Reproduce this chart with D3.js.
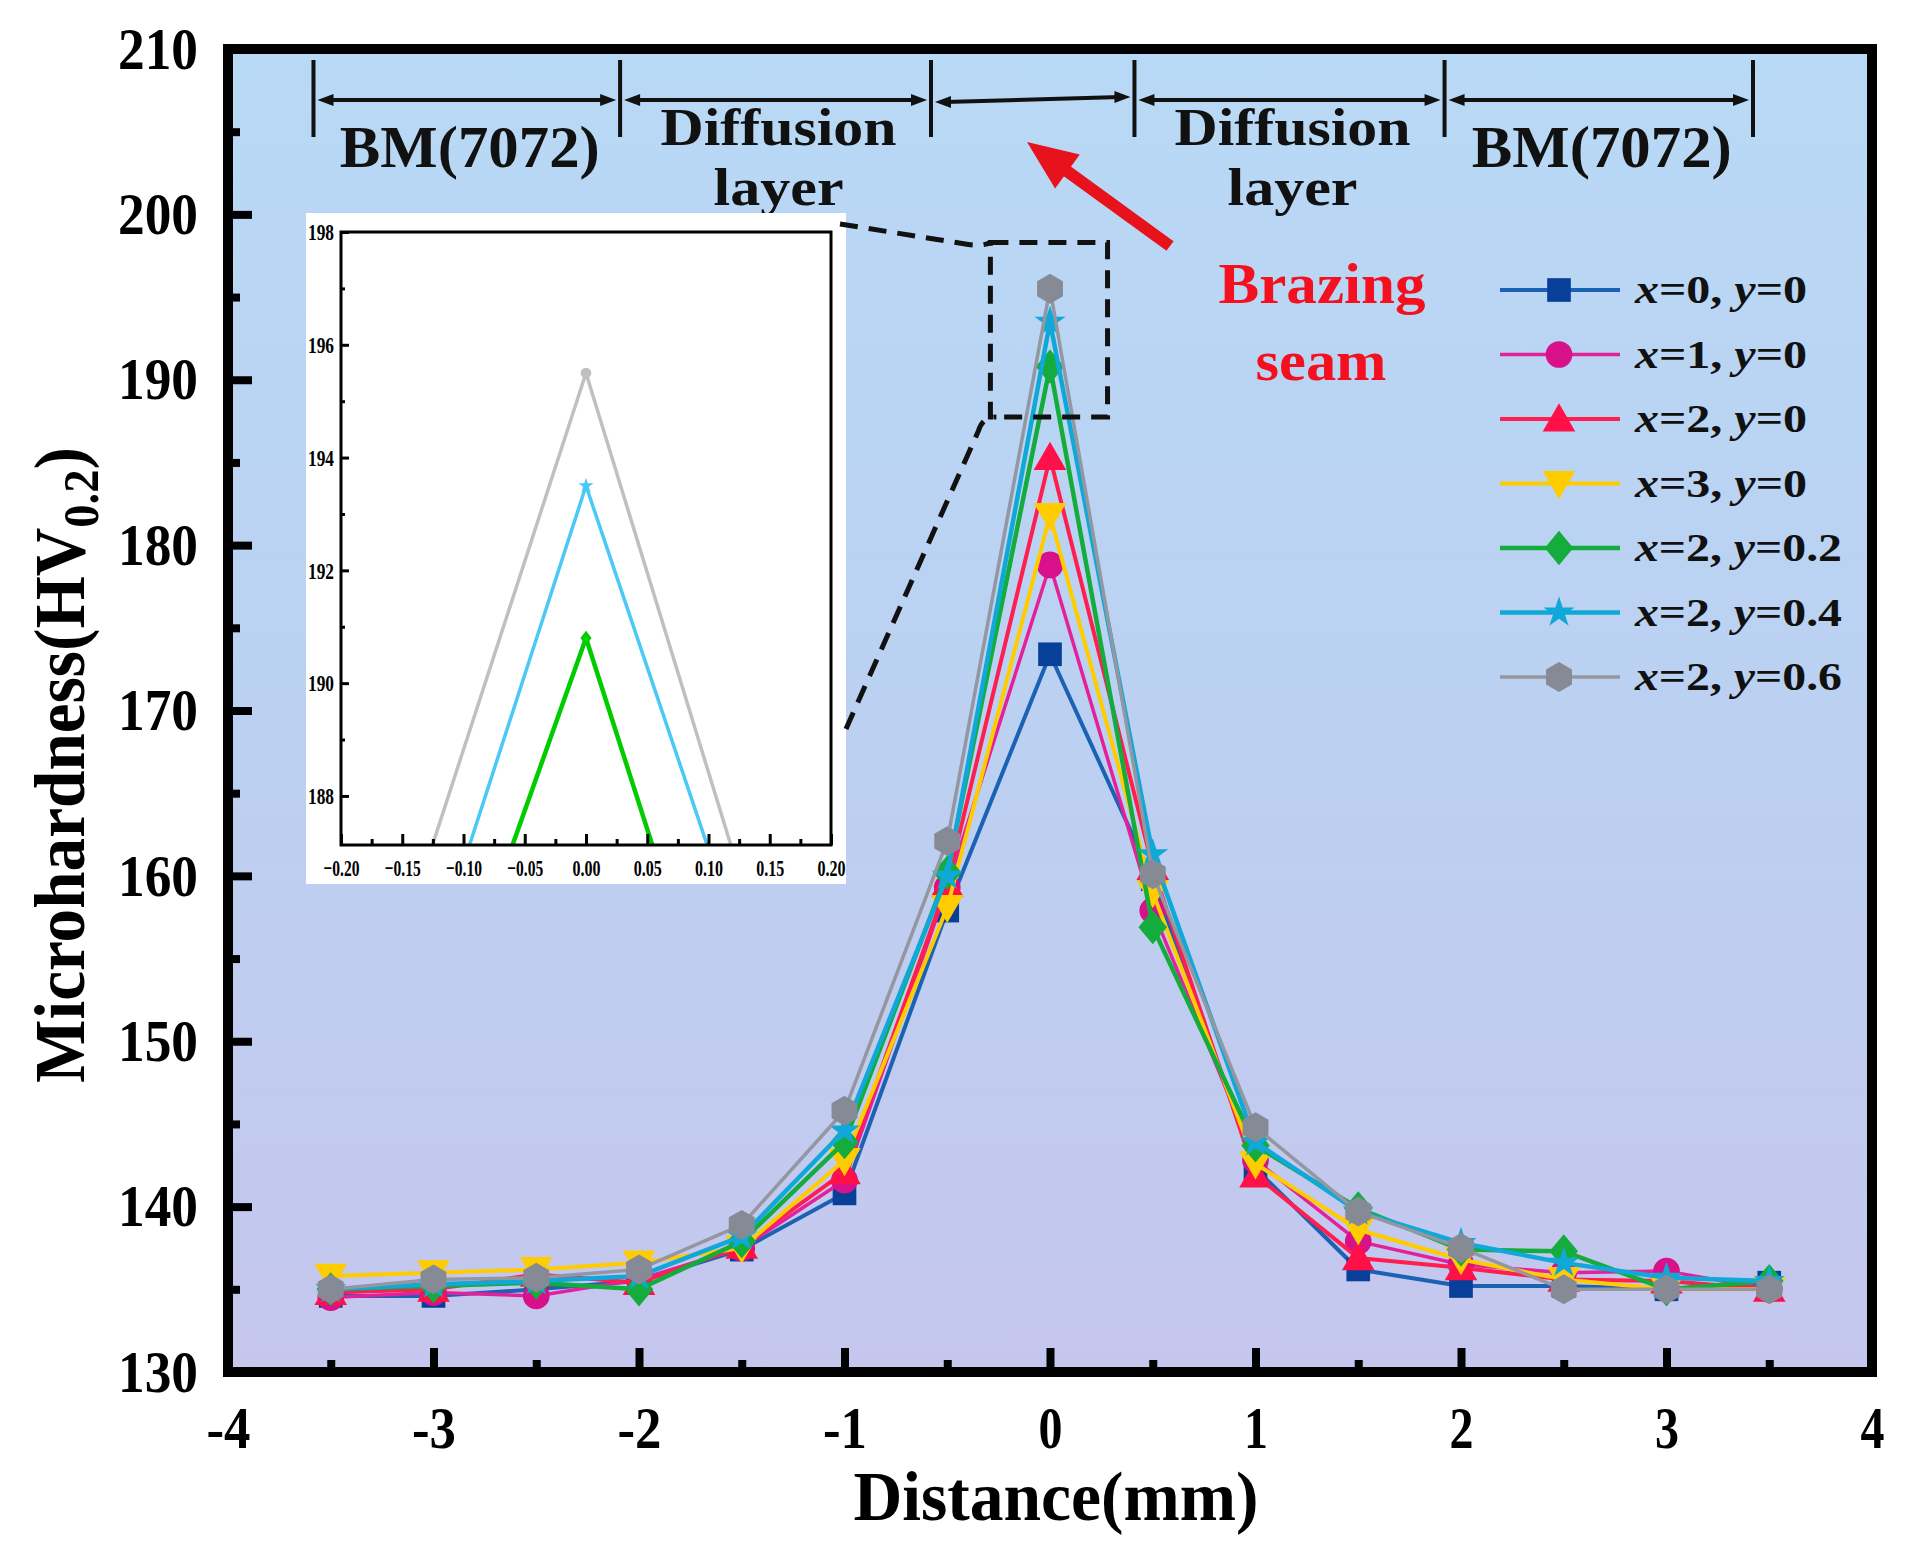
<!DOCTYPE html>
<html>
<head>
<meta charset="utf-8">
<script src="https://cdn.jsdelivr.net/npm/d3@7/dist/d3.min.js"></script>
<style>
  body { margin: 0; background: #fff; }
  svg { display: block; }
  text { font-family: "Liberation Serif", "Times New Roman", serif; font-weight: bold; }
</style>
</head>
<body>
<div id="chart"></div>
<script>
// distance from seam centre (mm)
const distance = [-3.5, -3, -2.5, -2, -1.5, -1, -0.5, 0, 0.5, 1, 1.5, 2, 2.5, 3, 3.5];

// microhardness HV0.2 per composition
const hv_x0_y0   = [134.6, 134.6, 135.0, 135.5, 137.4, 140.8, 157.9, 173.4, 159.8, 142.3, 136.2, 135.2, 135.2, 135.0, 135.4];
const hv_x1_y0   = [134.5, 134.8, 134.6, 135.6, 137.5, 141.6, 159.3, 178.8, 157.9, 142.8, 137.9, 136.5, 136.0, 136.1, 135.0];
const hv_x2_y0   = [134.8, 135.0, 135.9, 135.4, 137.6, 142.1, 159.5, 185.3, 160.5, 141.9, 136.9, 136.3, 135.6, 135.5, 135.0];
const hv_x3_y0   = [135.8, 136.0, 136.2, 136.6, 137.5, 142.8, 158.1, 181.8, 159.0, 142.6, 138.6, 136.8, 135.6, 135.0, 135.0];
const hv_x2_y02  = [135.0, 135.2, 135.4, 135.0, 137.9, 143.9, 160.2, 190.8, 156.9, 143.7, 139.9, 137.4, 137.3, 135.0, 135.5];
const hv_x2_y04  = [135.0, 135.3, 135.5, 135.8, 138.2, 144.6, 160.0, 193.5, 161.3, 143.9, 139.7, 137.8, 136.6, 135.7, 135.5];
const hv_x2_y06  = [135.0, 135.6, 135.7, 136.2, 138.9, 145.8, 162.1, 195.5, 160.1, 144.8, 139.7, 137.5, 135.0, 135.0, 135.0];

const legendX = ["0", "1", "2", "3", "2", "2", "2"];
const legendY = ["0", "0", "0", "0", "0.2", "0.4", "0.6"];

const xTicks = [-4, -3, -2, -1, 0, 1, 2, 3, 4];
const xMinor = [-3.5, -2.5, -1.5, -0.5, 0.5, 1.5, 2.5, 3.5];
const yTicks = [130, 140, 150, 160, 170, 180, 190, 200, 210];
const yMinor = [135, 145, 155, 165, 175, 185, 195, 205];

const insetXTicks = [-0.2, -0.15, -0.1, -0.05, 0, 0.05, 0.1, 0.15, 0.2];
const insetXMinor = [-0.175, -0.125, -0.075, -0.025, 0.025, 0.075, 0.125, 0.175];
const insetYTicks = [188, 190, 192, 194, 196, 198];
const insetYMinor = [189, 191, 193, 195, 197];

// region borders along the distance axis (mm) and their names
const zoneEdges = [-3.584, -2.092, -0.579, 0.411, 1.920, 3.421];
const zoneLabels = [["BM(7072)"], ["Diffusion", "layer"], [], ["Diffusion", "layer"], ["BM(7072)"]];

// area magnified in the inset
const zoomBoxX = [-0.29, 0.28];
const zoomBoxY = [187.75, 198.3];

const W = 1913, H = 1559;

const hexagon = {
  draw(ctx, size) {
    const r = Math.sqrt(size / (1.5 * Math.sqrt(3)));
    for (let i = 0; i < 6; i++) {
      const a = Math.PI / 3 * i - Math.PI / 2;
      if (i === 0) ctx.moveTo(r * Math.cos(a), r * Math.sin(a));
      else ctx.lineTo(r * Math.cos(a), r * Math.sin(a));
    }
    ctx.closePath();
  }
};

const series = [
  {values: hv_x0_y0,  line: "#1c62b4", fill: "#083f98", type: d3.symbolSquare,   size: 560, tf: "",               lw: 4},
  {values: hv_x1_y0,  line: "#e4209a", fill: "#d8108a", type: d3.symbolCircle,   size: 560, tf: "",               lw: 3.5},
  {values: hv_x2_y0,  line: "#ff1e50", fill: "#ff1048", type: d3.symbolTriangle, size: 460, tf: " translate(0,3)", lw: 4},
  {values: hv_x3_y0,  line: "#ffcc00", fill: "#ffcc00", type: d3.symbolTriangle, size: 460, tf: " rotate(180) translate(0,3)", lw: 4},
  {values: hv_x2_y02, line: "#14ac3c", fill: "#14ac3c", type: d3.symbolDiamond2, size: 520, tf: " scale(1,1.2)",  lw: 4.5},
  {values: hv_x2_y04, line: "#10a8d8", fill: "#10a8d8", type: d3.symbolStar,     size: 300, tf: "",               lw: 4.5},
  {values: hv_x2_y06, line: "#9496a0", fill: "#858a94", type: hexagon,           size: 580, tf: "",               lw: 3.5}
];

const svg = d3.select("#chart").append("svg").attr("width", W).attr("height", H);
const defs = svg.append("defs");
const grad = defs.append("linearGradient").attr("id", "bg")
  .attr("x1", 0).attr("y1", 0).attr("x2", 0).attr("y2", 1);
grad.append("stop").attr("offset", "0%").attr("stop-color", "#b8d9f5");
grad.append("stop").attr("offset", "55%").attr("stop-color", "#bcd0f1");
grad.append("stop").attr("offset", "100%").attr("stop-color", "#c5c6ee");

const x = d3.scaleLinear().domain([-4, 4]).range([228, 1872]);
const y = d3.scaleLinear().domain([130, 210]).range([1372, 49]);

// plot background
svg.append("rect")
  .attr("x", x(-4)).attr("y", y(210))
  .attr("width", x(4) - x(-4)).attr("height", y(130) - y(210))
  .attr("fill", "url(#bg)");

function tickStyle(w) {
  return g => {
    g.select(".domain").remove();
    g.selectAll(".tick line").attr("stroke", "#000").attr("stroke-width", w);
    g.selectAll(".tick text").attr("fill", "#000");
  };
}

// main axes (ticks point inward)
svg.append("g").attr("transform", `translate(0,${y(130)})`)
  .call(d3.axisBottom(x).tickValues(xMinor).tickSize(-12).tickFormat(""))
  .call(tickStyle(8));
svg.append("g").attr("transform", `translate(0,${y(130)})`)
  .call(d3.axisBottom(x).tickValues(xTicks).tickSize(-24).tickPadding(33).tickFormat(d => String(d)))
  .call(tickStyle(8))
  .call(g => g.selectAll(".tick text")
    .attr("font-size", 60)
    .attr("textLength", d => String(d).replace("-", "").length * 24 + (d < 0 ? 20 : 0))
    .attr("lengthAdjust", "spacingAndGlyphs"));

svg.append("g").attr("transform", `translate(${x(-4)},0)`)
  .call(d3.axisLeft(y).tickValues(yMinor).tickSize(-12).tickFormat(""))
  .call(tickStyle(8));
svg.append("g").attr("transform", `translate(${x(-4)},0)`)
  .call(d3.axisLeft(y).tickValues(yTicks).tickSize(-24).tickPadding(30).tickFormat(d => String(d)))
  .call(tickStyle(8))
  .call(g => g.selectAll(".tick text")
    .attr("font-size", 60)
    .attr("textLength", 80)
    .attr("lengthAdjust", "spacingAndGlyphs"));

// data
const line = d3.line().x((d, i) => x(distance[i])).y(d => y(d));
series.forEach(s => {
  svg.append("path").datum(s.values)
    .attr("d", line)
    .attr("fill", "none")
    .attr("stroke", s.line)
    .attr("stroke-width", s.lw)
    .attr("stroke-linejoin", "round");
  svg.append("g").selectAll("path")
    .data(s.values)
    .join("path")
    .attr("transform", (d, i) => `translate(${x(distance[i])},${y(d)})` + s.tf)
    .attr("d", d3.symbol().type(s.type).size(s.size))
    .attr("fill", s.fill);
});

// frame
svg.append("rect")
  .attr("x", x(-4)).attr("y", y(210))
  .attr("width", x(4) - x(-4)).attr("height", y(130) - y(210))
  .attr("fill", "none").attr("stroke", "#000").attr("stroke-width", 10);

// axis titles
svg.append("text")
  .attr("x", (x(-4) + x(4)) / 2 + 6).attr("y", 1520)
  .attr("text-anchor", "middle").attr("font-size", 70)
  .attr("textLength", 405).attr("lengthAdjust", "spacingAndGlyphs")
  .text("Distance(mm)");

const yTitle = svg.append("text")
  .attr("transform", "translate(84,765) rotate(-90)")
  .attr("text-anchor", "middle").attr("font-size", 72)
  .attr("textLength", 636).attr("lengthAdjust", "spacingAndGlyphs");
yTitle.append("tspan").text("Microhardness(HV");
yTitle.append("tspan").attr("font-size", 50).attr("dy", 14).text("0.2");
yTitle.append("tspan").attr("dy", -14).text(")");

// region annotations on top
const zoneY = 100;
const ann = svg.append("g");
zoneEdges.forEach(e => {
  ann.append("line")
    .attr("x1", x(e)).attr("x2", x(e)).attr("y1", 60).attr("y2", 137)
    .attr("stroke", "#111").attr("stroke-width", 4);
});
d3.pairs(zoneEdges).forEach(([a, b], i) => {
  const xa = x(a) + 4, xb = x(b) - 4;
  const ya = i === 2 ? zoneY + 2 : zoneY, yb = i === 2 ? zoneY - 3 : zoneY;
  ann.append("line").attr("x1", xa + 10).attr("x2", xb - 10).attr("y1", ya).attr("y2", yb)
    .attr("stroke", "#111").attr("stroke-width", 4);
  ann.append("path").attr("d", `M${xa},${ya} L${xa + 16},${ya - 6} L${xa + 16},${ya + 6} Z`).attr("fill", "#111");
  ann.append("path").attr("d", `M${xb},${yb} L${xb - 16},${yb - 6} L${xb - 16},${yb + 6} Z`).attr("fill", "#111");
  const cx = (x(a) + x(b)) / 2 + 3;
  const labels = zoneLabels[i];
  if (labels.length === 1) {
    ann.append("text").attr("x", cx).attr("y", 167)
      .attr("text-anchor", "middle").attr("font-size", 60)
      .attr("textLength", 260).attr("lengthAdjust", "spacingAndGlyphs")
      .attr("fill", "#111").text(labels[0]);
  } else if (labels.length === 2) {
    ann.append("text").attr("x", cx).attr("y", 145)
      .attr("text-anchor", "middle").attr("font-size", 53)
      .attr("textLength", 236).attr("lengthAdjust", "spacingAndGlyphs")
      .attr("fill", "#111").text(labels[0]);
    ann.append("text").attr("x", cx).attr("y", 205)
      .attr("text-anchor", "middle").attr("font-size", 53)
      .attr("textLength", 130).attr("lengthAdjust", "spacingAndGlyphs")
      .attr("fill", "#111").text(labels[1]);
  }
});

// inset
const xi = d3.scaleLinear().domain([-0.2, 0.2]).range([341, 831]);
const yi = d3.scaleLinear().domain([187.13, 198]).range([845, 232]);

svg.append("rect").attr("x", 306).attr("y", 213).attr("width", 540).attr("height", 671).attr("fill", "#fff");
defs.append("clipPath").attr("id", "insetClip").append("rect")
  .attr("x", xi(-0.2)).attr("y", yi(198))
  .attr("width", xi(0.2) - xi(-0.2)).attr("height", yi(187.13) - yi(198));

const insetSeries = [
  {values: hv_x2_y06, color: "#c0c0c0", type: d3.symbolCircle,   size: 90, tf: "",             lw: 3.5},
  {values: hv_x2_y04, color: "#4ac9f6", type: d3.symbolStar,     size: 70, tf: "",             lw: 3.5},
  {values: hv_x2_y02, color: "#00cc00", type: d3.symbolDiamond2, size: 80, tf: " scale(1,1.3)", lw: 4.5}
];
const iline = d3.line().x((d, i) => xi(distance[i])).y(d => yi(d));
const ig = svg.append("g").attr("clip-path", "url(#insetClip)");
insetSeries.forEach(s => {
  ig.append("path").datum(s.values).attr("d", iline)
    .attr("fill", "none").attr("stroke", s.color).attr("stroke-width", s.lw);
  ig.append("g").selectAll("path").data(s.values).join("path")
    .attr("transform", (d, i) => `translate(${xi(distance[i])},${yi(d)})` + s.tf)
    .attr("d", d3.symbol().type(s.type).size(s.size))
    .attr("fill", s.color);
});

svg.append("g").attr("transform", `translate(0,${yi(187.13)})`)
  .call(d3.axisBottom(xi).tickValues(insetXMinor).tickSize(-6).tickFormat(""))
  .call(tickStyle(3));
svg.append("g").attr("transform", `translate(0,${yi(187.13)})`)
  .call(d3.axisBottom(xi).tickValues(insetXTicks).tickSize(-11).tickPadding(14).tickFormat(d3.format(".2f")))
  .call(tickStyle(3))
  .call(g => g.selectAll(".tick text")
    .attr("font-size", 24)
    .attr("textLength", d => d < 0 ? 36 : 28)
    .attr("lengthAdjust", "spacingAndGlyphs"));
svg.append("g").attr("transform", `translate(${xi(-0.2)},0)`)
  .call(d3.axisLeft(yi).tickValues(insetYMinor).tickSize(-4).tickFormat(""))
  .call(tickStyle(3));
svg.append("g").attr("transform", `translate(${xi(-0.2)},0)`)
  .call(d3.axisLeft(yi).tickValues(insetYTicks).tickSize(-8).tickPadding(7).tickFormat(d => String(d)))
  .call(tickStyle(3))
  .call(g => g.selectAll(".tick text")
    .attr("font-size", 24)
    .attr("textLength", 26)
    .attr("lengthAdjust", "spacingAndGlyphs"));
svg.append("rect")
  .attr("x", xi(-0.2)).attr("y", yi(198))
  .attr("width", xi(0.2) - xi(-0.2)).attr("height", yi(187.13) - yi(198))
  .attr("fill", "none").attr("stroke", "#000").attr("stroke-width", 3);

// zoom box and connectors
const dash = g => g.attr("fill", "none").attr("stroke", "#111").attr("stroke-width", 5).attr("stroke-dasharray", "18,11");
svg.append("rect")
  .attr("x", x(zoomBoxX[0])).attr("y", y(zoomBoxY[1]))
  .attr("width", x(zoomBoxX[1]) - x(zoomBoxX[0])).attr("height", y(zoomBoxY[0]) - y(zoomBoxY[1]))
  .call(dash);
const bx = x(zoomBoxX[0]), byTop = y(zoomBoxY[1]), byBot = y(zoomBoxY[0]);
svg.append("path")
  .attr("d", `M840,224 L${bx - 22},${byTop + 2} Q${bx - 8},${byTop + 4} ${bx},${byTop}`)
  .call(dash);
svg.append("path")
  .attr("d", `M846,729 L${bx - 12},${byBot + 14} Q${bx - 8},${byBot} ${bx + 6},${byBot}`)
  .call(dash);

// red arrow and label
const tail = [1170, 246], tip = [1027, 142];
const len = Math.hypot(tip[0] - tail[0], tip[1] - tail[1]);
const ux = (tip[0] - tail[0]) / len, uy = (tip[1] - tail[1]) / len;
const base = [tip[0] - ux * 50, tip[1] - uy * 50];
svg.append("line")
  .attr("x1", tail[0]).attr("y1", tail[1]).attr("x2", base[0] + ux * 4).attr("y2", base[1] + uy * 4)
  .attr("stroke", "#e8121c").attr("stroke-width", 12);
svg.append("path")
  .attr("d", `M${tip[0]},${tip[1]} L${base[0] - uy * 21},${base[1] + ux * 21} L${base[0] + uy * 21},${base[1] - ux * 21} Z`)
  .attr("fill", "#e8121c");
svg.append("text").attr("x", 1322).attr("y", 303)
  .attr("text-anchor", "middle").attr("font-size", 58).attr("fill", "#f4101e")
  .attr("textLength", 207).attr("lengthAdjust", "spacingAndGlyphs").text("Brazing");
svg.append("text").attr("x", 1321).attr("y", 380)
  .attr("text-anchor", "middle").attr("font-size", 58).attr("fill", "#f4101e")
  .attr("textLength", 131).attr("lengthAdjust", "spacingAndGlyphs").text("seam");

// legend
const legend = svg.append("g");
series.forEach((s, i) => {
  const ly = 290 + i * 64.5;
  legend.append("line").attr("x1", 1500).attr("x2", 1620).attr("y1", ly).attr("y2", ly)
    .attr("stroke", s.line).attr("stroke-width", s.lw);
  legend.append("path")
    .attr("transform", `translate(1559,${ly})` + s.tf)
    .attr("d", d3.symbol().type(s.type).size(s.size))
    .attr("fill", s.fill);
  const t = legend.append("text").attr("x", 1635).attr("y", ly + 13)
    .attr("font-size", 40)
    .attr("textLength", legendY[i].length > 1 ? 207 : 172)
    .attr("lengthAdjust", "spacingAndGlyphs")
    .attr("fill", "#111");
  t.append("tspan").attr("font-style", "italic").text("x");
  t.append("tspan").text(`=${legendX[i]}, `);
  t.append("tspan").attr("font-style", "italic").text("y");
  t.append("tspan").text(`=${legendY[i]}`);
});
</script>
</body>
</html>
